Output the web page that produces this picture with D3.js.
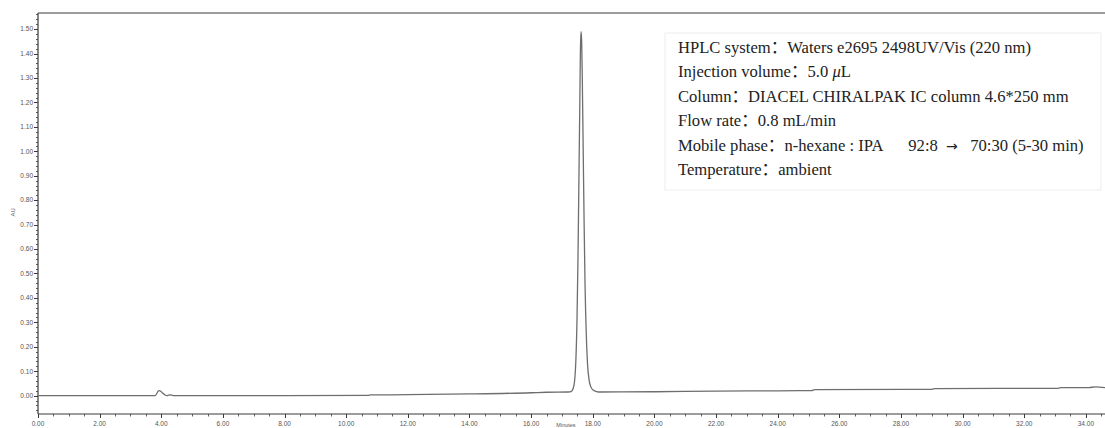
<!DOCTYPE html>
<html>
<head>
<meta charset="utf-8">
<script src="https://cdn.jsdelivr.net/npm/d3@7"></script>
<style>
  html, body { margin: 0; padding: 0; background: #fff; }
  svg { display: block; }
</style>
</head>
<body>
<svg id="chart" width="1105" height="428"></svg>
<script>
// Chromatogram trace: retention time (min) and absorbance (AU)
const timeMin = [
  0.00, 3.80, 3.86, 3.90, 3.94, 3.99, 4.05, 4.12, 4.18, 4.24, 4.30, 4.36, 4.45,
  8.00, 10.70, 10.80, 12.00, 14.00, 16.00, 16.50, 17.20, 17.30, 17.36, 17.41,
  17.45, 17.49, 17.52, 17.55, 17.58, 17.60, 17.62, 17.64, 17.66, 17.69, 17.72,
  17.75, 17.79, 17.83, 17.88, 17.94, 18.02, 18.12, 18.25, 20.00, 22.00, 24.00,
  25.10, 25.20, 29.00, 29.10, 33.10, 33.20, 34.10, 34.30, 34.62
];
const absorbanceAU = [
  0.000, 0.000, 0.010, 0.019, 0.021, 0.017, 0.010, 0.003, 0.000, 0.002, 0.003, 0.001, 0.000,
  0.000, 0.001, 0.003, 0.004, 0.007, 0.012, 0.014, 0.015, 0.017, 0.028, 0.060,
  0.140, 0.320, 0.560, 0.880, 1.200, 1.420, 1.490, 1.450, 1.300, 1.000, 0.700,
  0.450, 0.250, 0.130, 0.065, 0.035, 0.022, 0.017, 0.015, 0.016, 0.019, 0.020,
  0.021, 0.025, 0.026, 0.029, 0.030, 0.033, 0.033, 0.036, 0.033
];

// Axis ticks and labels
const xMajorTicks = d3.range(0, 34.01, 2);
const xMinorTicks = d3.range(0, 34.61, 0.5);
const yMajorTicks = d3.range(0, 1.501, 0.1);
const yMinorTicks = d3.range(-0.06, 1.561, 0.02);
const xTitle = "Minutes";
const yTitle = "AU";

// Method conditions annotation
const nb = n => "\u00a0".repeat(n);
const methodLines = [
  [{t: "HPLC system："}, {t: "Waters e2695 2498UV/Vis (220 nm)"}],
  [{t: "Injection volume："}, {t: "5.0 "}, {t: "μ", italic: true}, {t: "L"}],
  [{t: "Column："}, {t: "DIACEL CHIRALPAK IC column 4.6*250 mm"}],
  [{t: "Flow rate："}, {t: "0.8 mL/min"}],
  [{t: "Mobile phase："}, {t: "n-hexane : IPA" + nb(6) + "92:8" + nb(2)}, {t: "→", arrow: true}, {t: nb(3) + "70:30 (5-30 min)"}],
  [{t: "Temperature："}, {t: "ambient"}]
];

const W = 1105, H = 428;
const margin = {left: 38, right: 0, top: 13, bottom: 14};
const svg = d3.select("#chart");

const x = d3.scaleLinear().domain([0, 34.62]).range([margin.left, W - margin.right]);
const y = d3.scaleLinear().domain([-0.075, 1.566]).range([H - margin.bottom, margin.top]);

const axisColor = "#3a3a3a";
const labelColor = "#555";
const tickFont = "Liberation Sans, Arial, sans-serif";

// frame: left axis, bottom axis, top rule
const frame = svg.append("g");
frame.append("line")
  .attr("x1", x(0)).attr("x2", x(0))
  .attr("y1", y.range()[1]).attr("y2", y.range()[0])
  .attr("stroke", axisColor).attr("stroke-width", 1.2);
frame.append("line")
  .attr("x1", x(0)).attr("x2", W)
  .attr("y1", y.range()[0]).attr("y2", y.range()[0])
  .attr("stroke", axisColor).attr("stroke-width", 1.2);
frame.append("line")
  .attr("x1", x(0)).attr("x2", W)
  .attr("y1", y.range()[1]).attr("y2", y.range()[1])
  .attr("stroke", axisColor).attr("stroke-width", 1.2);

// y ticks
const yAxisG = svg.append("g");
yAxisG.selectAll("line.minor").data(yMinorTicks).join("line")
  .attr("class", "minor")
  .attr("x1", x(0) - 2).attr("x2", x(0))
  .attr("y1", d => Math.round(y(d)) + 0.5).attr("y2", d => Math.round(y(d)) + 0.5)
  .attr("stroke", axisColor).attr("stroke-width", 0.8);
yAxisG.selectAll("line.major").data(yMajorTicks).join("line")
  .attr("class", "major")
  .attr("x1", x(0) - 4).attr("x2", x(0))
  .attr("y1", d => Math.round(y(d)) + 0.5).attr("y2", d => Math.round(y(d)) + 0.5)
  .attr("stroke", axisColor).attr("stroke-width", 1);
yAxisG.selectAll("text").data(yMajorTicks).join("text")
  .attr("x", x(0) - 5).attr("y", d => y(d))
  .attr("dy", "0.35em")
  .attr("text-anchor", "end")
  .attr("font-family", tickFont).attr("font-size", 6.5)
  .attr("fill", labelColor)
  .text(d => d3.format(".2f")(d));

// x ticks
const xAxisG = svg.append("g");
const yBase = y.range()[0];
xAxisG.selectAll("line.minor").data(xMinorTicks).join("line")
  .attr("class", "minor")
  .attr("x1", d => Math.round(x(d)) + 0.5).attr("x2", d => Math.round(x(d)) + 0.5)
  .attr("y1", yBase).attr("y2", yBase + 2.5)
  .attr("stroke", axisColor).attr("stroke-width", 0.8);
xAxisG.selectAll("line.major").data(xMajorTicks).join("line")
  .attr("class", "major")
  .attr("x1", d => Math.round(x(d)) + 0.5).attr("x2", d => Math.round(x(d)) + 0.5)
  .attr("y1", yBase).attr("y2", yBase + 4)
  .attr("stroke", axisColor).attr("stroke-width", 1);
xAxisG.selectAll("text").data(xMajorTicks).join("text")
  .attr("x", d => x(d)).attr("y", yBase + 12)
  .attr("text-anchor", "middle")
  .attr("font-family", tickFont).attr("font-size", 6.5)
  .attr("fill", labelColor)
  .text(d => d3.format(".2f")(d));

// axis titles
svg.append("text")
  .attr("transform", `translate(15, ${y(0.75)}) rotate(-90)`)
  .attr("text-anchor", "middle")
  .attr("font-family", tickFont).attr("font-size", 6)
  .attr("fill", labelColor)
  .text(yTitle);
svg.append("text")
  .attr("x", 566).attr("y", 426.5)
  .attr("text-anchor", "middle")
  .attr("font-family", tickFont).attr("font-size", 5.5)
  .attr("fill", labelColor)
  .text(xTitle);

// chromatogram trace
const trace = timeMin.map((t, i) => [t, absorbanceAU[i]]);
svg.append("path")
  .datum(trace)
  .attr("fill", "none")
  .attr("stroke", "#6e6e6e")
  .attr("stroke-width", 1.3)
  .attr("stroke-linejoin", "round")
  .attr("d", d3.line().x(d => x(d[0])).y(d => y(d[1])).curve(d3.curveMonotoneX));

// method conditions box
const box = svg.append("g");
box.append("rect")
  .attr("x", 665).attr("y", 33).attr("width", 436).attr("height", 157)
  .attr("fill", "#fff").attr("stroke", "#eeeeee").attr("stroke-width", 1);
const serif = "'Liberation Serif', 'Times New Roman', 'Noto Sans CJK SC', serif";
methodLines.forEach((parts, i) => {
  const t = box.append("text")
    .attr("x", 678).attr("y", 53 + i * 24.4)
    .attr("font-family", serif).attr("font-size", 16.6)
    .attr("fill", "#222");
  parts.forEach(p => {
    const s = t.append("tspan").text(p.t);
    if (p.italic) s.attr("font-style", "italic");
    if (p.arrow) s.attr("font-size", 14).attr("font-family", "'DejaVu Sans', sans-serif");
  });
});
</script>
</body>
</html>
